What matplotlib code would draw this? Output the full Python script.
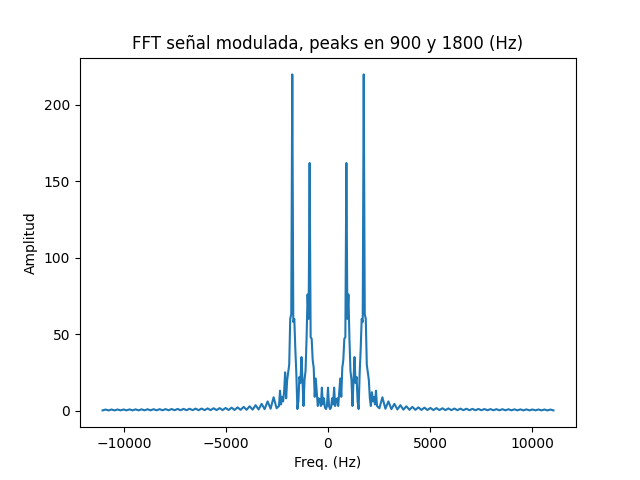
import numpy as np
import matplotlib
matplotlib.use("Agg")
import matplotlib.pyplot as plt

# Central region: bins every 50 Hz from -2400 to 2400 Hz
center_freq = np.arange(-2400, 2401, 50)
center_amp = [
    3, 13, 4, 9, 6, 12, 25, 8, 20, 25,
    30, 60, 63, 220, 58, 60, 40, 24, 1, 6,
    22, 18, 35, 20, 3, 20, 26, 47, 76, 60,
    162, 48, 47, 33, 28, 9, 21, 12, 3, 8,
    7, 3, 15, 4, 8, 2, 1, 3,
    15,
    3, 1, 2, 8, 4, 15, 3, 7, 8, 3,
    12, 21, 9, 28, 33, 47, 48, 162, 60, 76,
    47, 26, 20, 3, 20, 35, 18, 22, 6, 1,
    24, 40, 60, 58, 220, 63, 60, 30, 25, 20,
    8, 3, 12, 6, 9, 4, 13, 3,
]

# Tails: sideband humps roughly every 294 Hz
tail_right_freq = np.arange(2517, 11044, 147)
tail_right_amp = [
    1.5, 8.7, 1.2, 6.0, 0.9, 4.4, 0.7, 3.5, 0.6, 2.8,
    0.5, 2.4, 0.45, 2.1, 0.4, 1.9, 0.35, 1.7, 0.3, 1.6,
    0.3, 1.5, 0.28, 1.4, 0.26, 1.3, 0.25, 1.25, 0.24, 1.2,
    0.22, 1.1, 0.2, 1.05, 0.2, 1.0, 0.18, 0.95, 0.18, 0.9,
    0.16, 0.88, 0.15, 0.85, 0.15, 0.8, 0.14, 0.78, 0.13, 0.75,
    0.12, 0.72, 0.12, 0.7, 0.11, 0.68, 0.1, 0.65, 0.1,
]
tail_left_freq = -tail_right_freq[::-1]
tail_left_amp = [
    0.1, 0.65, 0.1, 0.68, 0.11, 0.7, 0.12, 0.72, 0.12, 0.75,
    0.13, 0.78, 0.14, 0.8, 0.15, 0.85, 0.15, 0.88, 0.16, 0.9,
    0.18, 0.95, 0.18, 1.0, 0.2, 1.05, 0.2, 1.1, 0.22, 1.2,
    0.24, 1.25, 0.25, 1.3, 0.26, 1.4, 0.28, 1.5, 0.3, 1.6,
    0.3, 1.7, 0.35, 1.9, 0.4, 2.1, 0.45, 2.4, 0.5, 2.8,
    0.6, 3.5, 0.7, 4.4, 0.9, 6.0, 1.2, 8.7, 1.5,
]

freq = np.concatenate([tail_left_freq, center_freq, tail_right_freq])
amp = np.concatenate([tail_left_amp, center_amp, tail_right_amp])

fig, ax = plt.subplots(figsize=(6.4, 4.8), dpi=100)
ax.plot(freq, amp, color="#1f77b4", linewidth=1.5)
ax.set_title("FFT señal modulada, peaks en 900 y 1800 (Hz)")
ax.set_xlabel("Freq. (Hz)")
ax.set_ylabel("Amplitud")
fig.savefig("out.png", dpi=100)
